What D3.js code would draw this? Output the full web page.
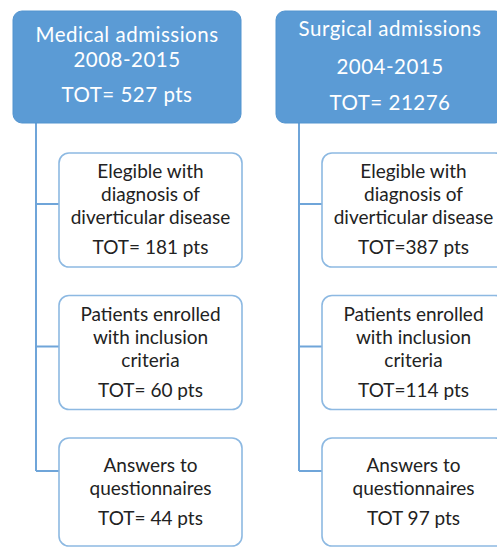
<!DOCTYPE html>
<html>
<head>
<meta charset="utf-8">
<script src="https://cdn.jsdelivr.net/npm/d3@7"></script>
<style>
  body { margin: 0; background: #fff; }
  svg { display: block; font-family: Lato, "Open Sans", sans-serif; }
</style>
</head>
<body>
<svg id="chart" width="497" height="551"></svg>
<script>
// ---- data
var columns = ["medical", "surgical"];
var headerLines = [
  ["Medical admissions", "2008-2015", "TOT= 527 pts"],
  ["Surgical admissions", "2004-2015", "TOT= 21276"]
];
var stageLabels = [
  ["Elegible with", "diagnosis of", "diverticular disease"],
  ["Patients enrolled", "with inclusion", "criteria"],
  ["Answers to", "questionnaires"]
];
var stageTotals = [
  ["TOT= 181 pts", "TOT= 60 pts", "TOT= 44 pts"],
  ["TOT=387 pts", "TOT=114 pts", "TOT 97 pts"]
];

// ---- layout
var svg = d3.select("#chart");
var blue = "#5b9bd5", lightBlue = "#8db9e2", lineBlue = "#6fa5d9";
var colX = d3.scaleLinear().domain([0, 1]).range([0, 263]);
var stageY = d3.scaleLinear().domain([0, 2]).range([153, 438]);
var stageH = [114, 114, 108];
var head = { x: 13, y: 11, w: 228, h: 112 },
  child = { x: 59, w: 183 },
  trunkX = 36;
var headBase = [[31, 56, 91], [25, 63, 99]]; // baseline offsets in header box

var cols = svg.selectAll(".col").data(columns).join("g").attr("class", "col")
  .attr("transform", (d, i) => "translate(" + colX(i) + ",0)");

//----- trunk + connectors
cols.append("line")
  .attr("x1", trunkX).attr("x2", trunkX)
  .attr("y1", head.y + head.h).attr("y2", d => stageY(2) + 33)
  .attr("stroke", lineBlue).attr("stroke-width", 2);
cols.selectAll(".conn").data(stageLabels).join("line").attr("class", "conn")
  .attr("x1", trunkX).attr("x2", child.x)
  .attr("y1", (d, i) => stageY(i) + (i == 2 ? 33 : 51))
  .attr("y2", (d, i) => stageY(i) + (i == 2 ? 33 : 51))
  .attr("stroke", lineBlue).attr("stroke-width", 2);

//----- header boxes
cols.append("rect")
  .attr("x", head.x).attr("y", head.y).attr("width", head.w).attr("height", head.h)
  .attr("rx", 9).attr("ry", 9)
  .attr("fill", blue).attr("stroke", "#5394cf").attr("stroke-width", 1);
cols.each(function (d, ci) {
  d3.select(this).selectAll(".htxt").data(headerLines[ci]).join("text").attr("class", "htxt")
    .attr("x", head.x + head.w / 2)
    .attr("y", (t, i) => head.y + headBase[ci][i])
    .attr("text-anchor", "middle")
    .attr("fill", "#fff")
    .style("font-size", "20.5px")
    .style("letter-spacing", "0.5px")
    .text(t => t);
});

//----- stage boxes
cols.each(function (d, ci) {
  var g = d3.select(this).selectAll(".stage").data(stageLabels).join("g").attr("class", "stage")
    .attr("transform", (s, i) => "translate(" + child.x + "," + stageY(i) + ")");
  g.append("rect")
    .attr("width", child.w).attr("height", (s, i) => stageH[i])
    .attr("rx", 10).attr("ry", 10)
    .attr("fill", "#fff").attr("stroke", lightBlue).attr("stroke-width", 1.6);
  g.each(function (s, i) {
    var lines = s.concat([stageTotals[ci][i]]);
    var span = 12 + 23 * (s.length - 1) + 30;
    var first = (stageH[i] - span) / 2 + 12;
    d3.select(this).selectAll("text").data(lines).join("text")
      .attr("x", child.w / 2)
      .attr("y", (t, k) => k < s.length ? first + 23 * k : first + 23 * (s.length - 1) + 30)
      .attr("text-anchor", "middle")
      .attr("fill", "#222")
      .style("font-size", "19px")
      .text(t => t);
  });
});
</script>
</body>
</html>
